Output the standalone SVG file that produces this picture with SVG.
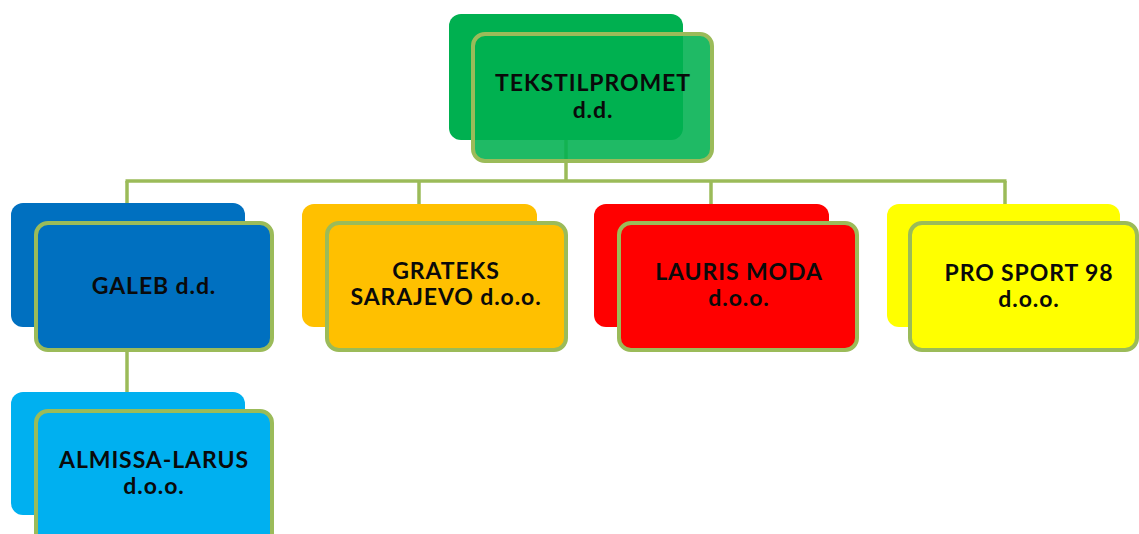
<svg xmlns="http://www.w3.org/2000/svg" width="1139" height="534" viewBox="0 0 1139 534">
<style>
.conn{stroke:#9BBB59;stroke-width:3.5;fill:none}
.back{stroke:none}
.front{stroke:#9BBB59;stroke-width:4}
.lbl{font-family:Lato,"Open Sans","Liberation Sans",sans-serif;font-weight:700;font-size:23px;letter-spacing:0.9px;fill:#0a0a0a;text-anchor:middle}
</style>
<rect width="1139" height="534" fill="#ffffff"/>
<g id="connectors">
<line class="conn" x1="566" y1="140" x2="566" y2="181"/>
<line class="conn" x1="125.5" y1="181" x2="1006.5" y2="181"/>
<line class="conn" x1="127" y1="181" x2="127" y2="204"/>
<line class="conn" x1="419" y1="181" x2="419" y2="204"/>
<line class="conn" x1="711" y1="181" x2="711" y2="204"/>
<line class="conn" x1="1005" y1="181" x2="1005" y2="204"/>
<line class="conn" x1="127" y1="327" x2="127" y2="392"/>
</g>
<g id="node-tekstilpromet">
<rect class="back" x="449" y="14" width="234" height="126" rx="12" fill="#00B050"/>
<rect class="front" x="473" y="34" width="239" height="127" rx="12" fill="#00B050" fill-opacity="0.88"/>
<text class="lbl" x="593" y="91">TEKSTILPROMET</text>
<text class="lbl" x="593" y="118">d.d.</text>
</g>
<g id="node-galeb">
<rect class="back" x="11" y="203" width="234" height="124" rx="12" fill="#0070C0"/>
<rect class="front" x="36" y="223" width="236" height="127" rx="12" fill="#0070C0"/>
<text class="lbl" x="154" y="294">GALEB d.d.</text>
</g>
<g id="node-grateks">
<rect class="back" x="302" y="204" width="235" height="123" rx="12" fill="#FFC000"/>
<rect class="front" x="327" y="223" width="239" height="127" rx="12" fill="#FFC000"/>
<text class="lbl" x="446" y="279">GRATEKS</text>
<text class="lbl" x="446" y="305">SARAJEVO d.o.o.</text>
</g>
<g id="node-lauris">
<rect class="back" x="594" y="204" width="235" height="123" rx="12" fill="#FF0000"/>
<rect class="front" x="619" y="223" width="238" height="127" rx="12" fill="#FF0000"/>
<text class="lbl" x="739" y="280">LAURIS MODA</text>
<text class="lbl" x="739" y="306">d.o.o.</text>
</g>
<g id="node-prosport">
<rect class="back" x="887" y="204" width="233" height="123" rx="12" fill="#FFFF00"/>
<rect class="front" x="910" y="223" width="227" height="127" rx="12" fill="#FFFF00"/>
<text class="lbl" x="1029" y="281">PRO SPORT 98</text>
<text class="lbl" x="1029" y="307">d.o.o.</text>
</g>
<g id="node-almissa">
<rect class="back" x="11" y="392" width="234" height="123" rx="12" fill="#00B0F0"/>
<rect class="front" x="36" y="411" width="236" height="135" rx="12" fill="#00B0F0"/>
<text class="lbl" x="154" y="468">ALMISSA-LARUS</text>
<text class="lbl" x="154" y="494">d.o.o.</text>
</g>
</svg>
